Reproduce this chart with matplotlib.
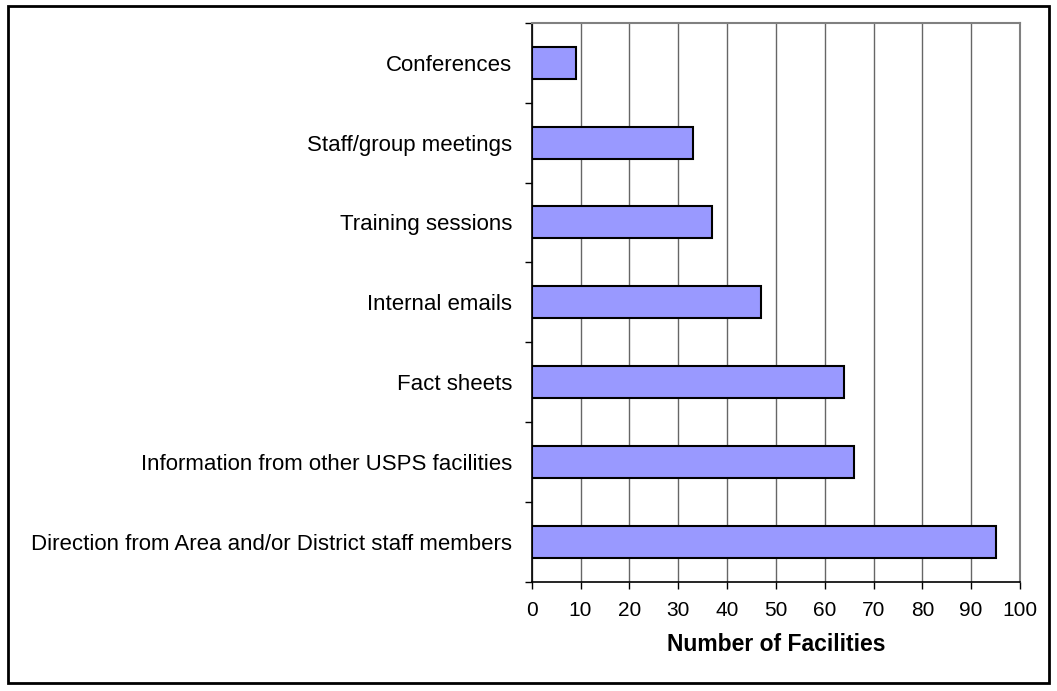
import matplotlib
matplotlib.use('Agg')
import matplotlib.pyplot as plt
from matplotlib.patches import Rectangle
import numpy as np

plt.rcParams['font.family'] = ['Liberation Sans', 'DejaVu Sans']

# bottom to top
categories = ['Direction from Area and/or District staff members',
              'Information from other USPS facilities',
              'Fact sheets',
              'Internal emails',
              'Training sessions',
              'Staff/group meetings',
              'Conferences']
counts = [95, 66, 64, 47, 37, 33, 9]
xticks = list(range(0, 101, 10))

fig = plt.figure(figsize=(10.57, 6.91), dpi=100)
ax = fig.add_axes([0.503, 0.158, 0.462, 0.809])

y = np.arange(len(categories))
ax.barh(y, counts, height=0.4, color='#9999FF', edgecolor='black', linewidth=1.5, zorder=3)

ax.set_xlim(0, 100)
ax.set_ylim(-0.5, len(categories) - 0.5)
ax.set_xticks(xticks)
ax.set_yticks(y)
ax.set_yticklabels(categories)
ax.set_yticks(np.arange(-0.5, len(categories), 1), minor=True)

ax.tick_params(axis='y', which='major', length=0, pad=14, labelsize=16)
ax.tick_params(axis='y', which='minor', length=5, width=1, direction='out')
ax.tick_params(axis='x', length=5, width=1, direction='out', pad=9, labelsize=15)

ax.xaxis.grid(True, color='#666666', linewidth=1, zorder=0)
ax.set_axisbelow(True)

for s in ['top', 'right']:
    ax.spines[s].set_color('#808080')
    ax.spines[s].set_linewidth(1.5)
for s in ['left', 'bottom']:
    ax.spines[s].set_color('black')
    ax.spines[s].set_linewidth(1.2)

ax.set_xlabel('Number of Facilities', fontsize=16.5, fontweight='bold', labelpad=9)

fig.patches.append(Rectangle((0.008, 0.012), 0.984, 0.979, transform=fig.transFigure,
                             fill=False, edgecolor='black', linewidth=2))

fig.savefig('out.png', dpi=100)
